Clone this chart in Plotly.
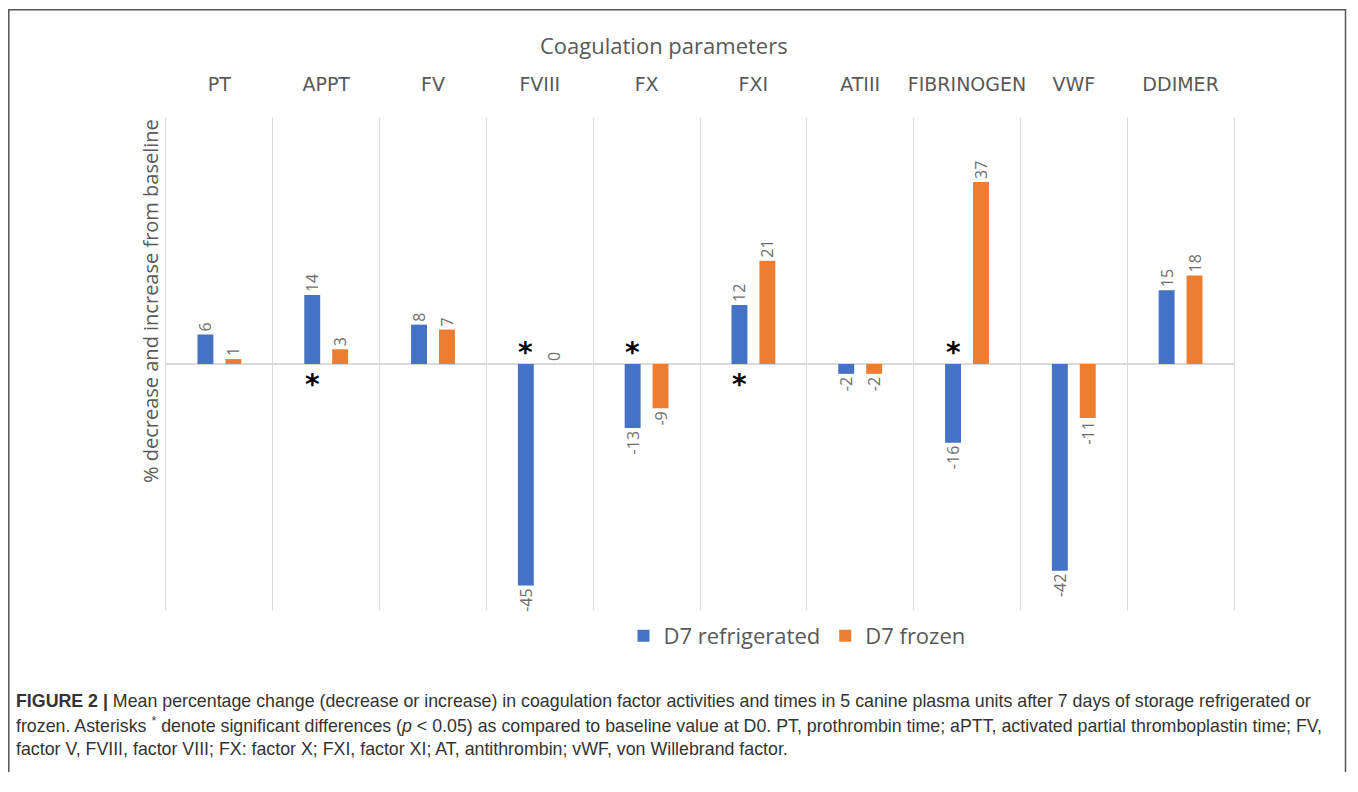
import plotly.graph_objects as go

categories = ["PT", "APPT", "FV", "FVIII", "FX", "FXI", "ATIII", "FIBRINOGEN", "VWF", "DDIMER"]
refrigerated = [6, 14, 8, -45, -13, 12, -2, -16, -42, 15]
frozen = [1, 3, 7, 0, -9, 21, -2, 37, -11, 18]
significant_refrigerated = [False, True, False, True, True, True, False, True, False, False]
series_names = ["D7 refrigerated", "D7 frozen"]

# page body has an 8px margin: figure occupies reference pixels from 8,8
OFF = 8
W, H = 1358 - 2 * OFF, 792 - 2 * OFF - 12
L, R, T, B = 166, 1234, 118, 610   # plot area in reference pixels
BLUE = "#4472C4"
ORANGE = "#ED7D31"
GRAY = "#595959"
GRID = "#D9D9D9"
BARGAP = 0.477


def px_x(p):
    return (p - L) / (R - L)


def px_y(p):
    return (B - p) / (B - T)


fig = go.Figure()
for name, vals, col in [(series_names[0], refrigerated, BLUE), (series_names[1], frozen, ORANGE)]:
    fig.add_trace(go.Bar(
        x=categories, y=vals, name=name, marker_color=col, marker_line_width=0,
        text=[str(v) for v in vals], textposition="outside", textangle=-90,
        textfont=dict(family="Open Sans", size=16, color="#6E6E6E"),
        cliponaxis=False, constraintext="none",
    ))

cat_w = (R - L) / len(categories)
blue_offset = -(1 - BARGAP) / 4 * cat_w
annotations = []
for cat, sig, v in zip(categories, significant_refrigerated, refrigerated):
    if sig:
        annotations.append(dict(
            x=cat, y=0, xref="x", yref="y", text="<b>*</b>", showarrow=False,
            xshift=blue_offset, yshift=(-20 if v > 0 else 12), yanchor="middle",
            font=dict(family="DejaVu Sans", size=28, color="#000000"),
        ))

annotations.append(dict(
    x=px_x(664), y=px_y(45), xref="paper", yref="paper", text="Coagulation parameters",
    showarrow=False, xanchor="center", yanchor="middle",
    font=dict(family="Open Sans", size=22, color=GRAY),
))
annotations.append(dict(
    x=px_x(150), y=px_y(301), xref="paper", yref="paper",
    text="% decrease and increase from baseline", textangle=-90,
    showarrow=False, xanchor="center", yanchor="middle",
    font=dict(family="Open Sans", size=20, color=GRAY),
))

caption = [
    "<b>FIGURE 2 |</b> Mean percentage change (decrease or increase) in coagulation factor activities and times in 5 canine plasma units after 7 days of storage refrigerated or",
    "frozen. Asterisks <sup>*</sup> denote significant differences (<i>p</i> &lt; 0.05) as compared to baseline value at D0. PT, prothrombin time; aPTT, activated partial thromboplastin time; FV,",
    "factor V, FVIII, factor VIII; FX: factor X; FXI, factor XI; AT, antithrombin; vWF, von Willebrand factor.",
]
for i, line in enumerate(caption):
    annotations.append(dict(
        x=px_x(14), y=px_y(701 + 24 * i), xref="paper", yref="paper", text=line,
        showarrow=False, xanchor="left", yanchor="middle",
        font=dict(family="Liberation Sans, Arial", size=17.8, color="#333333"),
    ))

fig.update_layout(
    width=W, height=H,
    margin=dict(l=L - OFF, r=(W + OFF) - R, t=T - OFF, b=(H + OFF) - B, autoexpand=False),
    paper_bgcolor="white", plot_bgcolor="white",
    barmode="group", bargap=BARGAP, bargroupgap=0.43,
    showlegend=True,
    legend=dict(orientation="h", x=px_x(797), y=px_y(636), xanchor="center", yanchor="middle",
                font=dict(family="Open Sans", size=22, color=GRAY), itemwidth=30,
                bgcolor="rgba(0,0,0,0)"),
    annotations=annotations,
    shapes=[dict(type="rect", xref="paper", yref="paper",
                 x0=px_x(8.8), x1=px_x(1345.5), y0=px_y(830), y1=px_y(9.8),
                 line=dict(color="#555555", width=1.5), fillcolor="rgba(0,0,0,0)", layer="below")],
    xaxis=dict(
        type="category", side="top", tickson="boundaries", showgrid=True, gridcolor=GRID, gridwidth=1.3,
        showline=False, ticks="", ticklabelstandoff=22, tickangle=0, automargin=False,
        tickfont=dict(family="DejaVu Sans", size=19, color=GRAY),
    ),
    yaxis=dict(
        range=[-50, 50], showgrid=False, showticklabels=False, ticks="", automargin=False,
        zeroline=True, zerolinecolor=GRID, zerolinewidth=1.5,
        showline=True, mirror=True, linecolor=GRID, linewidth=1.3,
    ),
)

fig.write_html("out.html")
